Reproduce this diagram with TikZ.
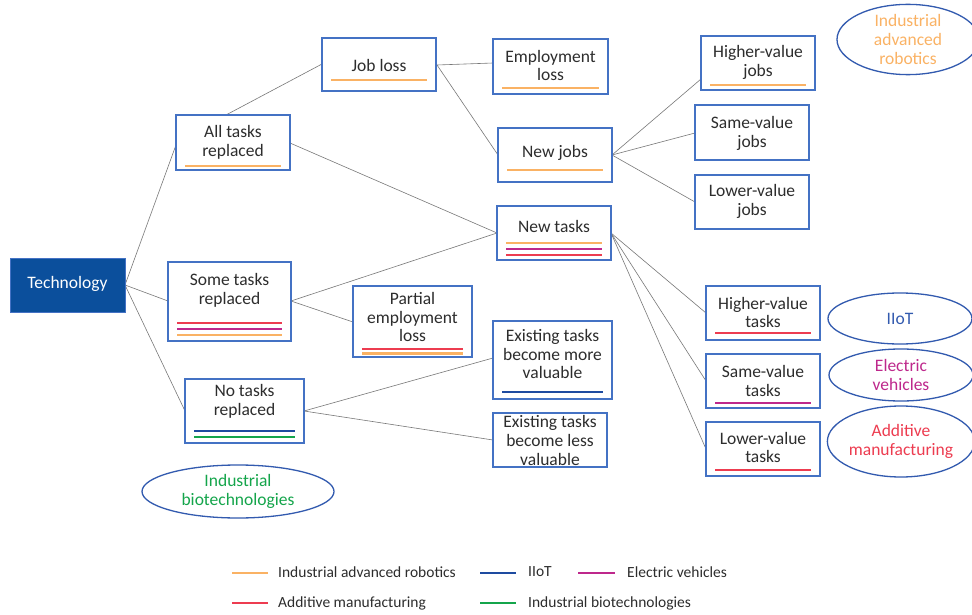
\documentclass[tikz,border=0pt]{standalone}
\usepackage{fontspec}
\setmainfont{Carlito}
\usetikzlibrary{shapes.geometric,calc}
\definecolor{cOr}{RGB}{250,178,100}
\definecolor{cMa}{RGB}{190,40,140}
\definecolor{cRe}{RGB}{237,60,80}
\definecolor{cBl}{RGB}{30,75,160}
\definecolor{cGr}{RGB}{20,165,75}
\definecolor{cBox}{RGB}{68,114,196}
\definecolor{cTech}{RGB}{11,79,156}
\definecolor{cEll}{RGB}{50,90,175}
\definecolor{cTxt}{RGB}{45,45,45}
\definecolor{cLine}{RGB}{120,120,120}
\newcommand\mkbox[5]{\node[box,minimum width={(#4-#2)*1pt},minimum height={(#5-#3)*1pt}] (#1) at ({(#2+#4)/2},{(#3+#5)/2}) {};}
\newcommand\uline[3]{\draw[uln,#1] let \p1=(#2.west), \p2=(#2.east) in (\x1+10pt,-#3pt) -- (\x2-10pt,-#3pt);}
\tikzset{
  box/.style={draw=cBox,line width=1.4pt,fill=white,inner sep=0pt,rectangle},
  lbl/.style={text=cTxt,align=center,inner sep=0pt,font=\fontsize{17.5}{18.7}\selectfont},
  ell/.style={ellipse,draw=cEll,line width=1.3pt,inner sep=0pt,align=center,font=\fontsize{17.5}{18.7}\selectfont},
  uln/.style={line width=2.4pt},
  conn/.style={draw=cLine,line width=0.6pt},
  legtxt/.style={anchor=west,text=cTxt,inner sep=0pt,font=\fontsize{15.5}{18.6}\selectfont},
}
\begin{document}
\begin{tikzpicture}[x=1pt,y=-1pt]
\useasboundingbox (0,0) rectangle (972,615);
\fill[white] (0,0) rectangle (972,615);
% connectors first (behind boxes)
\coordinate (techE) at (125,285);
\coordinate (atN) at (226,115);
\coordinate (atE) at (290,143);
\coordinate (atW) at (176,145);
\coordinate (stW) at (168,301);
\coordinate (stE) at (291,301);
\coordinate (ntW) at (185,411);
\coordinate (ntE) at (304,411);
\coordinate (jlW) at (322,64);
\coordinate (jlE) at (437,65);
\coordinate (elW) at (493,63);
\coordinate (njW) at (498,155);
\coordinate (njE) at (612,155);
\coordinate (nkW) at (497,233);
\coordinate (nkE) at (611,233);
\coordinate (peW) at (353,322);
\coordinate (hjW) at (701,79);
\coordinate (sjW) at (695,133);
\coordinate (ljW) at (695,202);
\coordinate (htW) at (706,313);
\coordinate (svW) at (706,381);
\coordinate (lvW) at (706,449);
\coordinate (emW) at (493,358);
\coordinate (elsW) at (493,440);
\draw[conn] (techE) -- (atW);
\draw[conn] (techE) -- (stW);
\draw[conn] (techE) -- (ntW);
\draw[conn] (atN) -- (jlW);
\draw[conn] (atE) -- (nkW);
\draw[conn] (stE) -- (nkW);
\draw[conn] (stE) -- (peW);
\draw[conn] (jlE) -- (elW);
\draw[conn] (jlE) -- (njW);
\draw[conn] (njE) -- (hjW);
\draw[conn] (njE) -- (sjW);
\draw[conn] (njE) -- (ljW);
\draw[conn] (nkE) -- (htW);
\draw[conn] (nkE) -- (svW);
\draw[conn] (nkE) -- (lvW);
\draw[conn] (ntE) -- (emW);
\draw[conn] (ntE) -- (elsW);
% Technology
\node[rectangle,fill=cTech,draw=cBox,line width=0.8pt,minimum width=115pt,minimum height=54pt,inner sep=0pt] (tech) at (67.5,285) {};
\node[lbl,text=white] (tech-t) at (67.5,284) {Technology};
% boxes
\mkbox{at}{176}{115}{290}{170}
\node[lbl] (at-t) at (233,142) {All tasks\\replaced};
\uline{cOr}{at}{166}
\mkbox{jl}{322}{38}{436}{91}
\node[lbl] (jl-t) at (379,65) {Job loss};
\uline{cOr}{jl}{80}
\mkbox{el}{493}{39}{608}{94}
\node[lbl] (el-t) at (550.5,65.5) {Employment\\loss};
\uline{cOr}{el}{88}
\mkbox{nj}{498}{128}{612}{182}
\node[lbl] (nj-t) at (555,153) {New jobs};
\uline{cOr}{nj}{170}
\mkbox{nk}{497}{206}{611}{260}
\node[lbl] (nk-t) at (554,226) {New tasks};
\uline{cOr}{nk}{243}
\uline{cMa}{nk}{249}
\uline{cRe}{nk}{255}
\mkbox{hj}{701}{36}{815}{90}
\node[lbl] (hj-t) at (758,62.5) {Higher-value\\jobs};
\uline{cOr}{hj}{85}
\mkbox{sj}{695}{105}{809}{160}
\node[lbl] (sj-t) at (752,133.5) {Same-value\\jobs};
\mkbox{lj}{695}{175}{809}{229}
\node[lbl] (lj-t) at (752,201.5) {Lower-value\\jobs};
\mkbox{st}{168}{262}{291}{341}
\node[lbl] (st-t) at (229.5,290) {Some tasks\\replaced};
\uline{cRe}{st}{323}
\uline{cMa}{st}{329}
\uline{cOr}{st}{335}
\mkbox{pe}{353}{286}{472}{357}
\node[lbl] (pe-t) at (412.5,317) {Partial\\employment\\loss};
\uline{cRe}{pe}{349}
\uline{cOr}{pe}{353.5}
\mkbox{nt}{185}{379}{304}{443}
\node[lbl] (nt-t) at (244.5,401.5) {No tasks\\replaced};
\uline{cBl}{nt}{431}
\uline{cGr}{nt}{437}
\mkbox{em}{493}{321}{612}{399}
\node[lbl] (em-t) at (552.5,354) {Existing tasks\\become more\\valuable};
\uline{cBl}{em}{392}
\mkbox{els}{493}{413}{607}{467}
\node[lbl] (els-t) at (550,440.5) {Existing tasks\\become less\\valuable};
\mkbox{ht}{706}{286}{820}{340}
\node[lbl] (ht-t) at (763,312.5) {Higher-value\\tasks};
\uline{cRe}{ht}{333}
\mkbox{sv}{706}{354}{820}{408}
\node[lbl] (sv-t) at (763,381) {Same-value\\tasks};
\uline{cMa}{sv}{403}
\mkbox{lv}{706}{422}{820}{476}
\node[lbl] (lv-t) at (763,447.5) {Lower-value\\tasks};
\uline{cRe}{lv}{470}
% ellipses
\node[ell,text=cOr,minimum width=142pt,minimum height=63pt] (e-iar) at (908,39.5) {Industrial\\advanced\\robotics};
\node[ell,text=cEll,minimum width=144pt,minimum height=51pt] (e-iiot) at (900,318.5) {IIoT};
\node[ell,text=cMa,minimum width=144pt,minimum height=52pt] (e-ev) at (901,375) {Electric\\vehicles};
\node[ell,text=cRe,minimum width=144pt,minimum height=71pt] (e-am) at (901,441.5) {Additive\\manufacturing};
\node[ell,text=cGr,minimum width=192pt,minimum height=53pt] (e-ib) at (238,491.5) {Industrial\\biotechnologies};
% legend
\draw[line width=2.4pt,cOr] (232,573) -- (268,573);
\node[legtxt] (lg1) at (278,572) {Industrial advanced robotics};
\draw[line width=2.4pt,cBl] (480,573) -- (516,573);
\node[legtxt] (lg2) at (528,572) {IIoT};
\draw[line width=2.4pt,cMa] (578,573) -- (615,573);
\node[legtxt] (lg3) at (627,572) {Electric vehicles};
\draw[line width=2.4pt,cRe] (232,603) -- (268,603);
\node[legtxt] (lg4) at (278,603) {Additive manufacturing};
\draw[line width=2.4pt,cGr] (480,603) -- (516,603);
\node[legtxt] (lg5) at (528,603) {Industrial biotechnologies};
\end{tikzpicture}
\end{document}
